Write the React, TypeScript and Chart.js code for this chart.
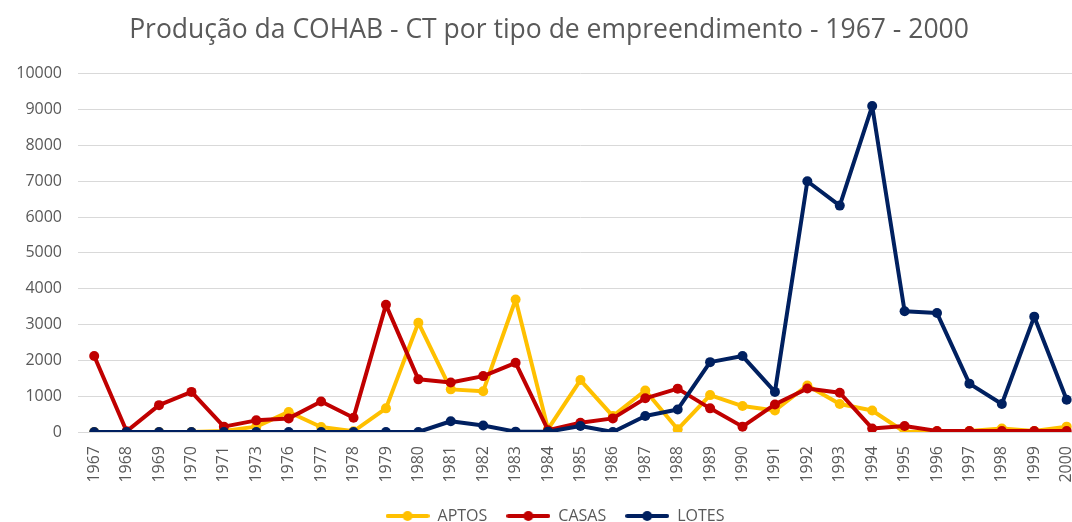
import React, { useEffect, useRef } from "react";
import { Chart, registerables } from "chart.js";
Chart.register(...registerables);

const categories = ["1967","1968","1969","1970","1971","1973","1976","1977","1978","1979","1980","1981","1982","1983","1984","1985","1986","1987","1988","1989","1990","1991","1992","1993","1994","1995","1996","1997","1998","1999","2000"];
const aptos = [0,0,0,0,30,150,560,140,20,660,3050,1190,1140,3700,80,1450,445,1160,75,1030,725,600,1300,780,600,0,20,30,100,30,150];
const casas = [2120,20,750,1120,150,325,380,850,400,3550,1470,1380,1560,1930,50,260,380,940,1210,660,150,770,1215,1095,100,167,30,30,30,30,30];
const lotes = [0,0,0,0,0,0,0,0,0,0,0,300,180,10,10,167,0,445,630,1950,2120,1120,7000,6320,9100,3370,3320,1350,780,3220,900];
const seriesNames = ["APTOS", "CASAS", "LOTES"];
const seriesColors = ["#FFC000", "#C00000", "#002060"];
const title = "Produção da COHAB - CT por tipo de empreendimento - 1967 - 2000";

const FONT = "'Open Sans', sans-serif";
const TEXT = "#595959";

function legendIcon(color: string): HTMLCanvasElement {
  const c = document.createElement("canvas");
  c.width = 44;
  c.height = 12;
  const ctx = c.getContext("2d")!;
  ctx.strokeStyle = color;
  ctx.lineWidth = 4;
  ctx.lineCap = "round";
  ctx.beginPath();
  ctx.moveTo(2, 6);
  ctx.lineTo(42, 6);
  ctx.stroke();
  ctx.fillStyle = color;
  ctx.beginPath();
  ctx.arc(22, 6, 5, 0, Math.PI * 2);
  ctx.fill();
  return c;
}

const shiftBoxes = {
  id: "shiftBoxes",
  afterLayout(chart: any) {
    if (chart.legend) {
      chart.legend.left += 9;
      chart.legend.right += 9;
    }
    if (chart.titleBlock) {
      chart.titleBlock.left += 3;
      chart.titleBlock.right += 3;
    }
  },
};

export default function App() {
  const ref = useRef<HTMLCanvasElement | null>(null);
  useEffect(() => {
    document.body.style.margin = "0";
    document.documentElement.style.overflow = "hidden";
    document.body.style.overflow = "hidden";
    const data = [aptos, casas, lotes];
    const chart = new Chart(ref.current!, {
      type: "line",
      plugins: [shiftBoxes],
      data: {
        labels: categories,
        datasets: data.map((d, i) => ({
          label: seriesNames[i],
          data: d,
          borderColor: seriesColors[i],
          backgroundColor: seriesColors[i],
          borderWidth: 4,
          borderJoinStyle: "round" as const,
          borderCapStyle: "round" as const,
          pointRadius: 5,
          pointHoverRadius: 5,
          pointBorderWidth: 0,
          tension: 0,
          order: 3 - i,
        })),
      },
      options: {
        animation: false,
        responsive: false,
        maintainAspectRatio: false,
        layout: { padding: { left: 0, right: 8, top: 0, bottom: 0 } },
        plugins: {
          tooltip: { enabled: false },
          title: {
            display: true,
            text: title,
            color: TEXT,
            font: { family: FONT, size: 26.5, weight: "normal" },
            padding: { top: 15, bottom: 27 },
          },
          legend: {
            position: "bottom",
            labels: {
              usePointStyle: true,
              pointStyleWidth: 44,
              color: TEXT,
              font: { family: FONT, size: 16 },
              padding: 19,
              generateLabels: () =>
                seriesNames.map((n, i) => ({
                  text: n,
                  pointStyle: legendIcon(seriesColors[i]) as any,
                  fillStyle: seriesColors[i],
                  strokeStyle: seriesColors[i],
                  lineWidth: 0,
                  hidden: false,
                  datasetIndex: i,
                  fontColor: TEXT,
                })),
            },
          },
        },
        scales: {
          x: {
            offset: true,
            afterFit: (s: any) => { s.height = 57; },
            grid: { display: false, drawTicks: false },
            border: { display: true, color: "#d9d9d9" },
            ticks: {
              color: TEXT,
              font: { family: FONT, size: 16 },
              minRotation: 90,
              maxRotation: 90,
              autoSkip: false,
              padding: 14,
            },
          },
          y: {
            min: 0,
            max: 10000,
            afterFit: (s: any) => { s.width = 78; },
            grid: { color: "#d9d9d9", lineWidth: 1, drawTicks: false },
            border: { display: false },
            ticks: {
              stepSize: 1000,
              color: TEXT,
              font: { family: FONT, size: 16 },
              padding: 16,
              callback: (v: any) => String(v),
            },
          },
        },
      },
    });
    return () => chart.destroy();
  }, []);
  return (
    <div style={{ position: "absolute", left: 0, top: 0, width: 1100, height: 534 }}>
      <canvas ref={ref} width={1100} height={534} style={{ width: 1100, height: 534 }} />
    </div>
  );
}
